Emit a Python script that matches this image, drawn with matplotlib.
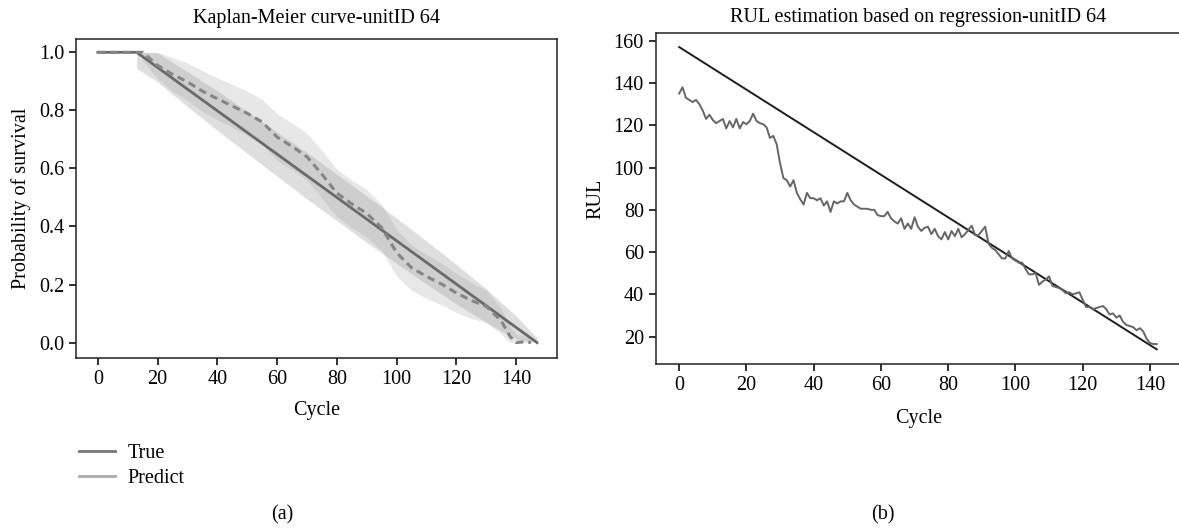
# coding: utf-8

import numpy as np
import matplotlib
matplotlib.use('Agg')
import matplotlib.pyplot as plt
from matplotlib.lines import Line2D

plt.rcParams['font.family'] = 'Liberation Serif'

# ---- Kaplan-Meier, unit 64 ----
km_true_cycle = [0, 13, 147]
km_true_surv = [1.0, 1.0, 0.0]

km_pred_cycle = [0, 15, 20, 25, 30, 35, 40, 45, 50, 55, 60, 65, 70, 75, 80, 85, 90, 95,
                 100, 105, 110, 115, 120, 125, 130, 135, 138, 140, 143, 145]
km_pred_surv = [1.0, 1.0, 0.955, 0.924, 0.898, 0.866, 0.840, 0.815, 0.790, 0.760, 0.708,
                0.676, 0.640, 0.580, 0.515, 0.478, 0.445, 0.396, 0.310, 0.258, 0.228,
                0.202, 0.171, 0.145, 0.125, 0.075, 0.021, 0.0, 0.003, 0.0]

# confidence bands
ci_true_cycle = [13, 20, 30, 40, 50, 60, 70, 80, 90, 100, 110, 120, 130, 140, 147]
ci_true_hi = [1.0, 0.998, 0.933, 0.867, 0.796, 0.725, 0.655, 0.580, 0.505, 0.429,
              0.350, 0.269, 0.185, 0.092, 0.015]
ci_true_lo = [0.945, 0.898, 0.813, 0.731, 0.652, 0.573, 0.495, 0.420, 0.345, 0.273,
              0.202, 0.133, 0.069, 0.012, 0.0]

ci_pred_cycle = km_pred_cycle[1:]
ci_pred_hi = [1.0, 1.0, 0.982, 0.963, 0.936, 0.912, 0.889, 0.866, 0.838, 0.788, 0.756,
              0.720, 0.662, 0.597, 0.560, 0.527, 0.476, 0.390, 0.336, 0.304, 0.274,
              0.239, 0.207, 0.180, 0.120, 0.056, 0.030, 0.023, 0.012]
ci_pred_lo = [0.970, 0.910, 0.866, 0.833, 0.796, 0.768, 0.741, 0.714, 0.682, 0.628,
              0.596, 0.560, 0.498, 0.433, 0.396, 0.363, 0.316, 0.230, 0.180, 0.152,
              0.130, 0.103, 0.083, 0.070, 0.030, 0.0, 0.0, 0.0, 0.0]

# ---- RUL regression, unit 64 ----
rul_true_cycle = [0, 142]
rul_true = [157, 14]

rul_pred = [135, 138, 133, 132, 131, 132, 130, 127, 123, 125,
            122.5, 121, 122, 123, 118.5, 122, 119, 123, 118.5, 121.5,
            120.5, 122, 125.5, 122, 121, 120.5, 119, 114, 115, 111,
            102, 95, 94, 91, 94, 88, 85, 82.5, 88, 85.5,
            85.5, 84.5, 85.5, 82, 84, 79, 84, 83, 84, 84,
            88, 84.5, 82.5, 81.5, 80.5, 80.5, 80.5, 80, 80, 77.5,
            77, 77, 79, 76, 74.5, 73.5, 76, 71, 73.5, 71,
            76.5, 72, 70, 71.5, 72, 68.5, 71, 67.5, 66, 69.5,
            66, 70, 67.5, 71, 67, 68.5, 70.5, 72.5, 68, 68,
            70, 72, 64, 62, 61, 59, 57, 57, 60.5, 57,
            56, 55, 55, 52, 49.5, 49.5, 50, 44.5, 46, 47,
            48.5, 44, 43.5, 43, 42, 40.5, 41, 40, 40.5, 41,
            37.5, 34, 34, 33, 33.5, 34, 34.5, 33, 30.5, 31,
            29, 30, 27, 25.5, 25, 24.5, 23, 24, 22.5, 19,
            17, 16.5, 16.5]
rul_cycle = np.arange(len(rul_pred))

FS = 14.5
fig = plt.figure(figsize=(11.79, 5.29), dpi=100)

# panel (a)
ax1 = fig.add_axes([0.0645, 0.3233, 0.4077, 0.6025])
ax1.fill_between(ci_true_cycle, ci_true_lo, ci_true_hi, color='#7f7f7f', alpha=0.25, lw=0)
ax1.fill_between(ci_pred_cycle, ci_pred_lo, ci_pred_hi, color='#a0a0a0', alpha=0.25, lw=0)
ax1.plot(km_true_cycle, km_true_surv, color='#6a6a6a', lw=2)
ax1.plot(km_pred_cycle, km_pred_surv, color='#858585', lw=2.2, ls=(0, (2.5, 1.6)))
ax1.set_xlim(-7.3, 153.6)
ax1.set_ylim(-0.053, 1.045)
ax1.set_xticks(range(0, 141, 20))
ax1.set_yticks([0.0, 0.2, 0.4, 0.6, 0.8, 1.0])
ax1.set_yticklabels(['0.0', '0.2', '0.4', '0.6', '0.8', '1.0'])
ax1.set_xlabel('Cycle', fontsize=FS, labelpad=9)
ax1.set_ylabel('Probability of survival', fontsize=FS, labelpad=6)
ax1.set_title('Kaplan-Meier curve-unitID 64', fontsize=FS, pad=12)

handles = [Line2D([], [], color='#777777', lw=2), Line2D([], [], color='#aaaaaa', lw=2)]
fig.legend(handles, ['True', 'Predict'], loc='upper left', bbox_to_anchor=(0.052, 0.195),
           frameon=False, fontsize=FS, handlelength=1.75, handletextpad=0.65, labelspacing=0.3)
fig.text(0.239, 0.018, '(a)', fontsize=FS, ha='center')

# panel (b)
ax2 = fig.add_axes([0.5561, 0.3113, 0.4455, 0.6257])
ax2.plot(rul_true_cycle, rul_true, color='#1e1e1e', lw=1.4)
ax2.plot(rul_cycle, rul_pred, color='#666666', lw=1.4)
ax2.set_xlim(-7.0, 149.2)
ax2.set_ylim(6.9, 163.5)
ax2.set_xticks(range(0, 141, 20))
ax2.set_yticks(range(20, 161, 20))
ax2.set_xlabel('Cycle', fontsize=FS, labelpad=10)
ax2.set_ylabel('RUL', fontsize=FS, labelpad=6)
ax2.set_title('RUL estimation based on regression-unitID 64', fontsize=FS, pad=8)
fig.text(0.749, 0.018, '(b)', fontsize=FS, ha='center')

for ax in (ax1, ax2):
    ax.tick_params(labelsize=FS, length=5, width=1.3, color='#222222')
    for s in ax.spines.values():
        s.set_linewidth(1.1)
        s.set_color('#222222')

fig.savefig('out.png', dpi=100)
